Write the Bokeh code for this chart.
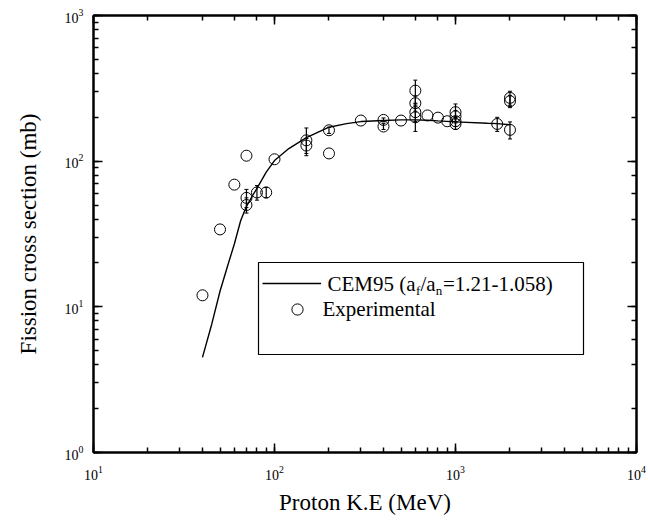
from bokeh.plotting import figure
from bokeh.models import (ColumnDataSource, Whisker, LogAxis, LogTicker, Label,
                          BoxAnnotation, Legend, LegendItem, CustomJSTickFormatter, TeeHead)
from bokeh.embed import file_html
from bokeh.resources import INLINE

# ---- data ----
curve_energy = [40, 45, 50, 55, 60, 65, 70, 75, 80, 90, 100, 120, 150, 200, 250,
                300, 400, 500, 600, 700, 800, 1000, 1500, 1700, 2000]
curve_sigma = [4.5, 7.6, 12.8, 19, 27, 39, 49, 57, 65, 84, 101, 122, 145, 171, 181,
               187, 190, 192, 192, 191, 189, 186, 182, 181, 178]

exp_energy = [40, 50, 60, 70, 70, 70, 80, 90, 100, 150, 150, 200, 200, 300, 400, 400,
              500, 600, 600, 600, 600, 700, 800, 900, 1000, 1000, 1000, 1000, 1700,
              2000, 2000, 2000]
exp_sigma = [12, 34, 69, 109, 56, 50, 61, 61, 103, 139, 128, 163, 113, 190, 192, 173,
             190, 305, 250, 217, 200, 206, 199, 188, 217, 203, 188, 180, 180,
             164, 258, 272]
exp_error = [0, 0, 0, 0, 8, 6, 7, 5, 0, 30, 15, 8, 0, 0, 6, 8,
             0, 55, 30, 30, 40, 0, 0, 0, 30, 20, 15, 15, 20,
             22, 25, 30]

x_label = "Proton K.E (MeV)"
y_label = "Fission cross section (mb)"
legend_curve = ["CEM95 (a", "f", "/a", "n", "=1.21-1.058)"]
legend_exp = "Experimental"

FONT = "Liberation Serif"

p = figure(width=648, height=523, x_axis_type="log", y_axis_type="log",
           x_range=(10, 10000), y_range=(1, 1000),
           output_backend="svg", toolbar_location=None,
           min_border_left=93, min_border_right=12, min_border_top=15, min_border_bottom=71)
p.xgrid.visible = False
p.ygrid.visible = False
p.outline_line_color = "black"
p.outline_line_width = 2
p.background_fill_color = "white"
p.border_fill_color = "white"

def style_axis(ax):
    ax.axis_line_width = 2
    ax.axis_line_color = "black"
    ax.major_tick_in = 9
    ax.major_tick_out = 0
    ax.minor_tick_in = 5
    ax.minor_tick_out = 0
    ax.major_tick_line_width = 1.5
    ax.minor_tick_line_width = 1.5
    ax.major_tick_line_color = "black"
    ax.minor_tick_line_color = "black"
    ax.major_label_text_font = FONT
    ax.major_label_text_font_size = "14px"
    ax.major_label_text_color = "black"
    ax.axis_label_text_font = FONT
    ax.axis_label_text_font_size = "23px"
    ax.axis_label_text_font_style = "normal"
    ax.axis_label_text_color = "black"

style_axis(p.xaxis[0])
style_axis(p.yaxis[0])
p.xaxis[0].axis_label = x_label
p.yaxis[0].axis_label = y_label
p.xaxis[0].major_label_standoff = 13
p.xaxis[0].axis_label_standoff = 7
p.yaxis[0].major_label_standoff = 10
p.yaxis[0].axis_label_standoff = 21

# mirrored axes (ticks only) on top and right
for place in ("above", "right"):
    ax = LogAxis(ticker=LogTicker(), formatter=CustomJSTickFormatter(code="return ''"))
    style_axis(ax)
    ax.major_label_text_font_size = "0px"
    ax.major_label_standoff = 0
    p.add_layout(ax, place)

# ---- error bars ----
err_idx = [i for i, e in enumerate(exp_error) if e > 0]
err_src = ColumnDataSource(dict(
    x=[exp_energy[i] for i in err_idx],
    upper=[exp_sigma[i] + exp_error[i] for i in err_idx],
    lower=[exp_sigma[i] - exp_error[i] for i in err_idx],
))
wh = Whisker(base="x", upper="upper", lower="lower", source=err_src,
             line_color="black", line_width=1.2,
             upper_head=TeeHead(size=4, line_color="black", line_width=1),
             lower_head=TeeHead(size=4, line_color="black", line_width=1))
p.add_layout(wh)

curve_r = p.line(curve_energy, curve_sigma, line_color="black", line_width=1.4)
exp_r = p.scatter(exp_energy, exp_sigma, marker="circle", size=11,
                  fill_color=None, line_color="black", line_width=1)

# ---- legend ----
p.add_layout(BoxAnnotation(left=165, right=490, bottom=98, top=190,
                           left_units="screen", right_units="screen",
                           bottom_units="screen", top_units="screen",
                           fill_color=None, fill_alpha=0, line_color="black",
                           line_alpha=1, line_width=1.2))

leg1 = Legend(items=[LegendItem(label=" ", renderers=[curve_r])], location=(169, 159),
              glyph_width=59, glyph_height=20, label_width=0, label_standoff=0,
              label_text_font_size="1px", padding=0, margin=0, spacing=0,
              border_line_color=None, background_fill_alpha=0)
leg2 = Legend(items=[LegendItem(label=" ", renderers=[exp_r])], location=(190, 129),
              glyph_width=28, glyph_height=28, label_width=0, label_standoff=0,
              label_text_font_size="1px", padding=0, margin=0, spacing=0,
              border_line_color=None, background_fill_alpha=0)
p.add_layout(leg1)
p.add_layout(leg2)

main_size = "21px"
sub_size = "13px"
xs = [234, 322.5, 327, 342.3, 349.5]
ys = [169, 162, 169, 162, 169]
sizes = [main_size, sub_size, main_size, sub_size, main_size]
for t, x, y, s in zip(legend_curve, xs, ys, sizes):
    p.add_layout(Label(x=x, y=y, x_units="screen", y_units="screen", text=t,
                       text_font=FONT, text_font_size=s, text_color="black",
                       text_baseline="alphabetic"))
p.add_layout(Label(x=229, y=144, x_units="screen", y_units="screen", text=legend_exp,
                   text_font=FONT, text_font_size=main_size, text_color="black",
                   text_baseline="alphabetic"))

open("out.html", "w").write(file_html(p, INLINE))
